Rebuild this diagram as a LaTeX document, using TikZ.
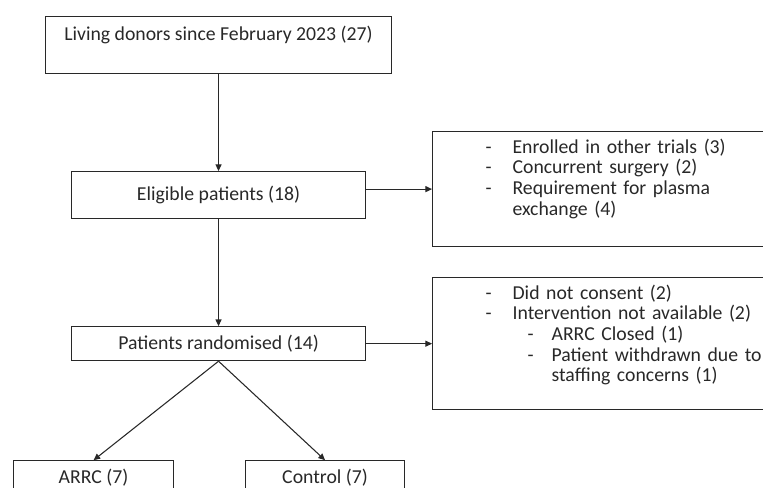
\documentclass[tikz,border=0pt]{standalone}
\usepackage{fontspec}
\setmainfont{Carlito}
\usetikzlibrary{positioning, arrows.meta}
\definecolor{linegray}{RGB}{40,40,40}

% dashed list lines inside the exclusion boxes
\newcommand{\exitem}[1]{\makebox[20.25pt][l]{-}#1}
\newcommand{\excont}[1]{\makebox[20.25pt][l]{}#1}
\newcommand{\exsub}[1]{\makebox[49.5pt][l]{\makebox[31.5pt][l]{}-}#1}
\newcommand{\exsubcont}[1]{\makebox[49.5pt][l]{}#1}

\begin{document}
\begin{tikzpicture}[>={Triangle[length=5pt,width=4.5pt]},
    box/.style={rectangle, draw=linegray, line width=0.8pt, align=center, inner sep=0pt, text=linegray, font=\fontsize{14.8pt}{15.5pt}\selectfont},
    topbox/.style={box, inner xsep=4pt, inner ysep=5pt, text height=12.6pt},
    excl/.style={topbox, align=left, text width=240pt, inner xsep=39.75pt, text height=11.1pt},
    arrow/.style={->, line width=0.8pt, draw=linegray}]

    % Frame
    \useasboundingbox (0,0) rectangle (572.25pt,-365.25pt);
    \clip (0,0) rectangle (572.25pt,-365.25pt);

    % Main flow
    \node[topbox, anchor=north west, minimum width=259.5pt, text depth=20.15pt] (donors) at (33.75pt,-12pt) {Living donors since February 2023 (27)};
    \node[box, below=72.75pt of donors, minimum width=220.5pt, minimum height=35.25pt] (eligible) {Eligible patients (18)};
    \node[box, below=80.25pt of eligible, minimum width=220.5pt, minimum height=25.5pt] (randomised) {Patients randomised (14)};

    % Study arms
    \node[box, below=74.25pt of randomised, xshift=-93.75pt, minimum width=120pt, minimum height=25pt] (arrc) {ARRC (7)};
    \node[box, below=74.25pt of randomised, xshift=79.9pt, minimum width=119.25pt, minimum height=25pt] (control) {Control (7)};

    % Exclusions
    \node[excl, right=49.5pt of eligible, yshift=4.5pt, text depth=65.15pt] (excl_eligible) {\exitem{Enrolled in other trials (3)}\\ \exitem{Concurrent surgery (2)}\\ \exitem{Requirement for plasma}\\ \excont{exchange (4)}};
    \node[excl, right=49.5pt of randomised, text depth=77.9pt] (excl_random) {\exitem{Did not consent (2)}\\ \exitem{Intervention not available (2)}\\ \exsub{ARRC Closed (1)}\\ \exsub{Patient withdrawn due to}\\ \exsubcont{staffing concerns (1)}};

    % Connections
    \draw[arrow] (donors) -- (eligible);
    \draw[arrow] (eligible) -- (randomised);
    \draw[arrow] (eligible.east |- excl_eligible.west) -- (excl_eligible.west);
    \draw[arrow] (randomised) -- (excl_random);
    \draw[arrow] (randomised.south) -- (arrc.north);
    \draw[arrow] (randomised.south) -- (control.north);
\end{tikzpicture}
\end{document}
